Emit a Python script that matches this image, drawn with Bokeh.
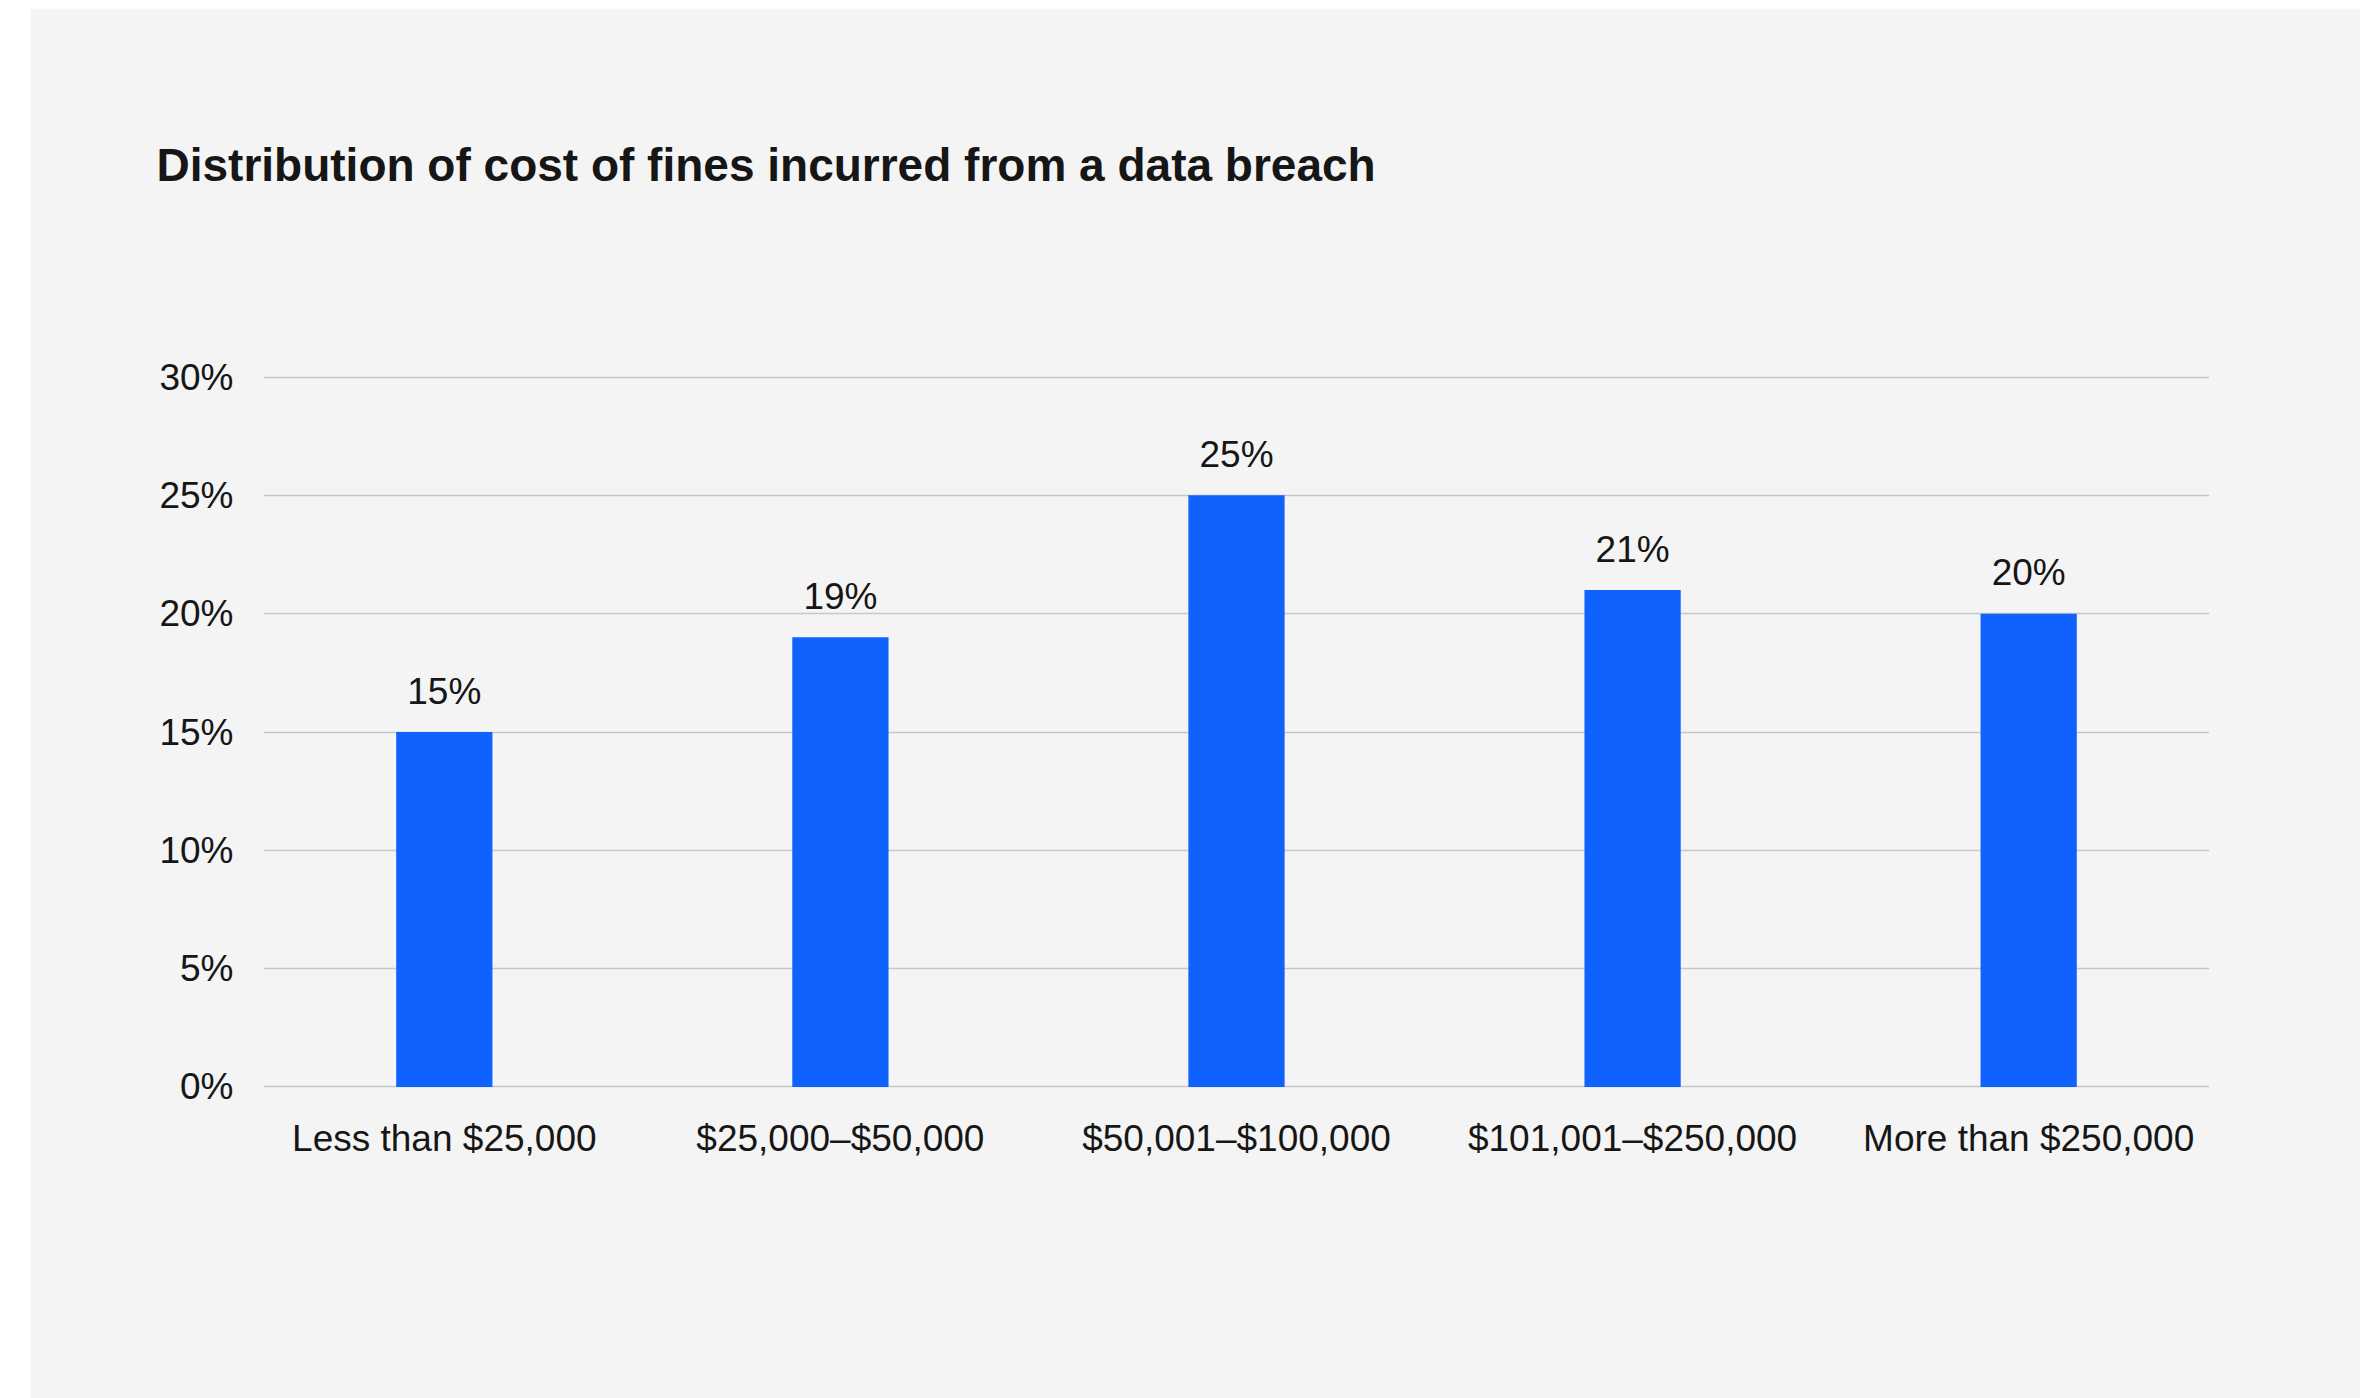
from bokeh.plotting import figure
from bokeh.models import ColumnDataSource, FactorRange, NumeralTickFormatter, Title
from bokeh.embed import file_html
from bokeh.resources import INLINE
from bokeh.core.properties import value

categories = ["Less than $25,000", "$25,000\u2013$50,000", "$50,001\u2013$100,000",
              "$101,001\u2013$250,000", "More than $250,000"]
shares = [15, 19, 25, 21, 20]
labels = ["15%", "19%", "25%", "21%", "20%"]
y_ticks = [0, 5, 10, 15, 20, 25, 30]
chart_title = "Distribution of cost of fines incurred from a data breach"

BG = "#f4f4f4"
BLUE = "#0f62fe"
TXT = "#161616"
FONT = "Liberation Sans"

src = ColumnDataSource(dict(cat=categories, val=shares, lab=labels))

p = figure(
    x_range=FactorRange(factors=categories, range_padding=-0.0174),
    y_range=(-0.15, 30.15),
    width=2330, height=1390,
    output_backend="svg", toolbar_location=None,
    min_border_left=233, min_border_right=151,
    min_border_top=365, min_border_bottom=308,
    background_fill_color=BG, border_fill_color=BG,
    outline_line_color=None,
)
p.margin = (8, 0, 0, 30)

p.vbar(x="cat", top="val", width=0.243, source=src, color=BLUE, line_color=None)
p.text(x="cat", y="val", text="lab", source=src, text_align="center",
       text_baseline="alphabetic", y_offset=-41, text_color=TXT,
       text_font=value(FONT), text_font_size="37px")

# spacer between the title and the plot area
spacer = Title(text=" ", text_font_size="1px", standoff=58)
p.add_layout(spacer, "above")

title = Title(text=chart_title, text_font=FONT, text_font_size="46px",
              text_font_style="bold", text_color=TXT, align="left",
              vertical_align="top", offset=-107, standoff=240)
p.add_layout(title, "above")

p.xgrid.grid_line_color = None
p.ygrid.grid_line_color = "#c6c6c6"
p.ygrid.grid_line_width = 1.5
p.ygrid.ticker = y_ticks

p.yaxis.ticker = y_ticks
p.yaxis.formatter = NumeralTickFormatter(format="0")
p.yaxis.major_label_overrides = {t: f"{t}%" for t in y_ticks}
for ax in (p.xaxis[0], p.yaxis[0]):
    ax.axis_line_color = None
    ax.major_tick_line_color = None
    ax.minor_tick_line_color = None
    ax.major_tick_in = 0
    ax.major_tick_out = 0
    ax.minor_tick_out = 0
    ax.major_label_text_font = FONT
    ax.major_label_text_font_size = "37px"
    ax.major_label_text_color = TXT
p.yaxis.major_label_standoff = 30
p.xaxis.major_label_standoff = 27

open("out.html", "w").write(file_html(p, INLINE))
